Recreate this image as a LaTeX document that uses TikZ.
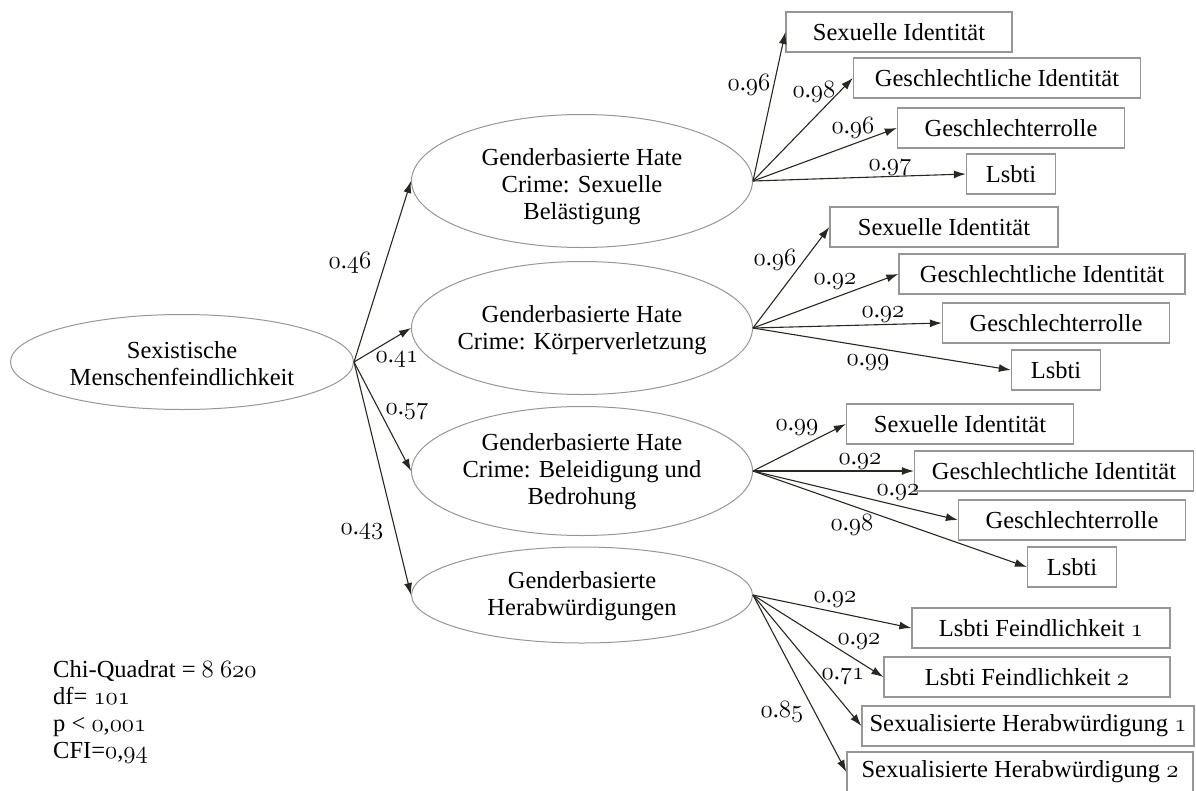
\documentclass[tikz,border=0pt]{standalone}
\usepackage{fontspec}
\setmainfont{Liberation Serif}
\usetikzlibrary{shapes.geometric,arrows.meta}
\newcommand{\osn}[1]{{\usefont{OML}{lmm}{b}{it}#1}}
\newcommand{\ff}{\fontsize{24.5}{27}\selectfont}
\definecolor{linegray}{RGB}{150,150,150}
\definecolor{arrowdark}{RGB}{40,40,32}
\tikzset{
  lat/.style={ellipse, draw=linegray, line width=1pt, minimum width=341pt, minimum height=133pt, inner sep=0pt},
  lattext/.style={inner sep=0pt, align=center, font=\ff},
  obs/.style={rectangle, draw=linegray, line width=1.3pt, minimum height=40pt, inner sep=0pt, font=\ff},
  lbl/.style={inner sep=0pt, font=\ff},
  arr/.style={draw=arrowdark, line width=1.1pt, -{Latex[length=12pt,width=8pt]}}
}
\begin{document}
\begin{tikzpicture}[x=1pt,y=-1pt]
\useasboundingbox (0,0) rectangle (1196,790);
\clip (0,0) rectangle (1196,790);
% latent variables
\node[lat, minimum width=343pt, minimum height=95pt] (sm) at (182,362) {};
\node[lattext] (smt) at (182,364) {Sexistische\\Menschenfeindlichkeit};
\node[lat] (e1) at (582,181) {};
\node[lattext] (e1t) at (582,187) {Genderbasierte Hate\\Crime: Sexuelle\\Belästigung};
\node[lat] (e2) at (582,328) {};
\node[lattext] (e2t) at (582,330) {Genderbasierte Hate\\Crime: Körperverletzung};
\node[lat, minimum height=129pt] (e3) at (582,471) {};
\node[lattext] (e3t) at (582,472) {Genderbasierte Hate\\Crime: Beleidigung und\\Bedrohung};
\node[lat, minimum height=96pt] (e4) at (582,595) {};
\node[lattext] (e4t) at (582,596) {Genderbasierte\\Herabwürdigungen};
% structural paths
\draw[arr] (sm.east) -- (e1.west);
\draw[arr] (sm.east) -- (e2.west);
\draw[arr] (sm.east) -- (e3.west);
\draw[arr] (sm.east) -- (e4.west);
\node[lbl] (l46) at (350,263) {\osn{0}.\osn{46}};
\node[lbl] (l41) at (397,360) {\osn{0}.\osn{41}};
\node[lbl] (l57) at (407,412) {\osn{0}.\osn{57}};
\node[lbl] (l43) at (362,532) {\osn{0}.\osn{43}};
% group 1
\node[obs, minimum width=226pt] (si1) at (899,32) {Sexuelle Identität};
\node[obs, minimum width=287pt] (gi1) at (997,78) {Geschlechtliche Identität};
\node[obs, minimum width=227pt] (gr1) at (1011,128) {Geschlechterrolle};
\node[obs, minimum width=89pt] (ls1) at (1011,174) {Lsbti};
\draw[arr] (e1.east) -- (si1.west);
\draw[arr] (e1.east) -- (gi1.west);
\draw[arr] (e1.east) -- (gr1.west);
\draw[arr] (e1.east) -- (ls1.west);
\node[lbl] (a1) at (749,85) {\osn{0}.\osn{96}};
\node[lbl] (a2) at (814,92) {\osn{0}.\osn{98}};
\node[lbl] (a3) at (853,128) {\osn{0}.\osn{96}};
\node[lbl] (a4) at (890,168) {\osn{0}.\osn{97}};
% group 2
\node[obs, minimum width=228pt] (si2) at (944,227) {Sexuelle Identität};
\node[obs, minimum width=286pt] (gi2) at (1042,274) {Geschlechtliche Identität};
\node[obs, minimum width=227pt] (gr2) at (1056,323) {Geschlechterrolle};
\node[obs, minimum width=89pt] (ls2) at (1056,370) {Lsbti};
\draw[arr] (e2.east) -- (si2.west);
\draw[arr] (e2.east) -- (gi2.west);
\draw[arr] (e2.east) -- (gr2.west);
\draw[arr] (e2.east) -- (ls2.west);
\node[lbl] (b1) at (775,260) {\osn{0}.\osn{96}};
\node[lbl] (b2) at (835,282) {\osn{0}.\osn{92}};
\node[lbl] (b3) at (883,315) {\osn{0}.\osn{92}};
\node[lbl] (b4) at (868,363) {\osn{0}.\osn{99}};
% group 3
\node[obs, minimum width=227pt] (si3) at (960,424) {Sexuelle Identität};
\node[obs, minimum width=279pt] (gi3) at (1054,471) {Geschlechtliche Identität};
\node[obs, minimum width=227pt] (gr3) at (1072,520) {Geschlechterrolle};
\node[obs, minimum width=89pt] (ls3) at (1072,567) {Lsbti};
\draw[arr] (e3.east) -- (si3.west);
\draw[arr] (e3.east) -- (gi3.west);
\draw[arr] (e3.east) -- (gr3.west);
\draw[arr] (e3.east) -- (ls3.west);
\node[lbl] (c1) at (797,428) {\osn{0}.\osn{99}};
\node[lbl] (c2) at (860,462) {\osn{0}.\osn{92}};
\node[lbl] (c3) at (898,493) {\osn{0}.\osn{92}};
\node[lbl] (c4) at (852,525) {\osn{0}.\osn{98}};
% group 4
\node[obs, minimum width=258pt] (lf1) at (1041,628) {Lsbti Feindlichkeit \osn{1}};
\node[obs, minimum width=286pt] (lf2) at (1027,677) {Lsbti Feindlichkeit \osn{2}};
\node[obs, minimum width=332pt] (sh1) at (1028,726) {Sexualisierte Herabwürdigung \osn{1}};
\node[obs, minimum width=346pt] (sh2) at (1020,772) {Sexualisierte Herabwürdigung \osn{2}};
\draw[arr] (e4.east) -- (lf1.west);
\draw[arr] (e4.east) -- (lf2.west);
\draw[arr] (e4.east) -- (sh1.west);
\draw[arr] (e4.east) -- (sh2.west);
\node[lbl] (d1) at (835,600) {\osn{0}.\osn{92}};
\node[lbl] (d2) at (859,642) {\osn{0}.\osn{92}};
\node[lbl] (d3) at (843,677) {\osn{0}.\osn{71}};
\node[lbl] (d4) at (782,712) {\osn{0}.\osn{85}};
% fit statistics
\node[lbl, anchor=west, align=left] (fit) at (53,712) {Chi-Quadrat = \osn{8} \osn{620}\\df= \osn{101}\\p < \osn{0},\osn{001}\\CFI=\osn{0},\osn{94}};
\end{tikzpicture}
\end{document}
